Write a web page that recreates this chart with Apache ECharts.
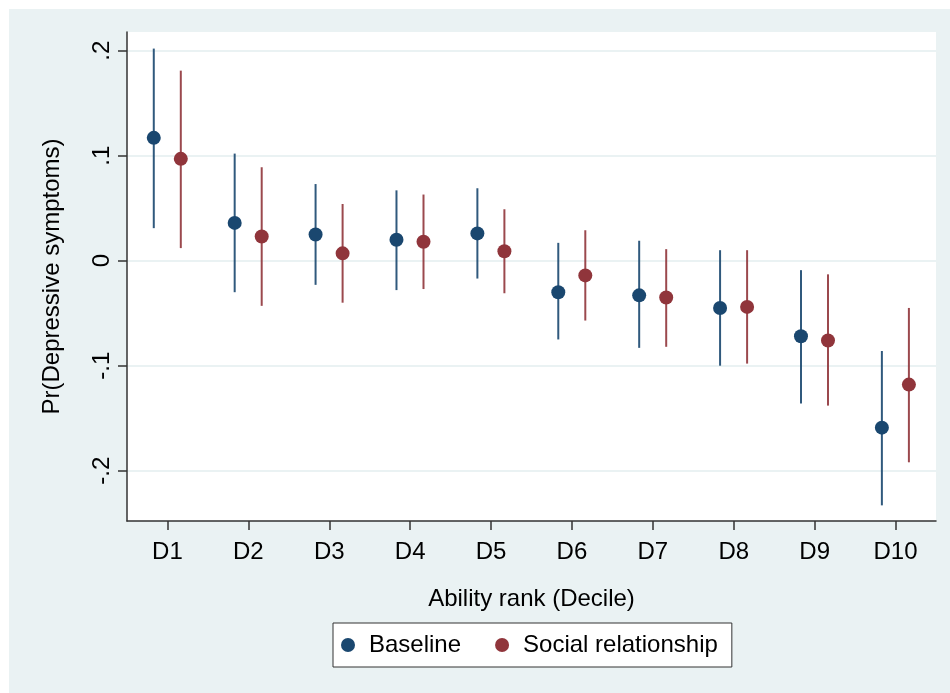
<!DOCTYPE html>
<html>
<head>
<meta charset="utf-8">
<script src="https://cdn.jsdelivr.net/npm/echarts@6/dist/echarts.min.js"></script>
<style>
html,body{margin:0;padding:0;background:#fff;}
#chart{width:950px;height:693px;}
</style>
</head>
<body>
<div id="chart"></div>
<script>
var categories = ['D1','D2','D3','D4','D5','D6','D7','D8','D9','D10'];
var baselineEst = [0.117, 0.036, 0.025, 0.020, 0.026, -0.030, -0.033, -0.045, -0.072, -0.159];
var baselineLo  = [0.031, -0.030, -0.023, -0.028, -0.017, -0.075, -0.083, -0.100, -0.136, -0.233];
var baselineHi  = [0.202, 0.102, 0.073, 0.067, 0.069, 0.017, 0.019, 0.010, -0.009, -0.086];
var socialEst = [0.097, 0.023, 0.007, 0.018, 0.009, -0.014, -0.035, -0.044, -0.076, -0.118];
var socialLo  = [0.012, -0.043, -0.040, -0.027, -0.031, -0.057, -0.082, -0.098, -0.138, -0.192];
var socialHi  = [0.181, 0.089, 0.054, 0.063, 0.049, 0.029, 0.011, 0.010, -0.013, -0.045];
var yTickValues = [-0.2, -0.1, 0, 0.1, 0.2];
var yTickLabels = ['-.2', '-.1', '0', '.1', '.2'];
var seriesNames = ['Baseline', 'Social relationship'];

var FONT = "'Liberation Sans', Arial, sans-serif";

function buildData(est, lo, hi) {
  return categories.map(function (c, i) { return [i, est[i], lo[i], hi[i]]; });
}

function makeRender(offsetFrac) {
  return function (params, api) {
    var idx = api.value(0);
    var c = api.coord([idx, api.value(1)]);
    var lo = api.coord([idx, api.value(2)]);
    var hi = api.coord([idx, api.value(3)]);
    var bw = api.size([1, 0])[0];
    var x = c[0] + offsetFrac * bw;
    var color = api.visual('color');
    return {
      type: 'group',
      children: [
        { type: 'line', shape: { x1: x, y1: hi[1], x2: x, y2: lo[1] },
          style: { stroke: color, lineWidth: 2, opacity: 0.9 } },
        { type: 'circle', shape: { cx: x, cy: c[1], r: 7 },
          style: { fill: color } }
      ]
    };
  };
}

var chart = echarts.init(document.getElementById('chart'), null, { renderer: 'canvas' });
chart.setOption({
  animation: false,
  backgroundColor: '#fff',
  textStyle: { fontFamily: FONT },
  graphic: [{
    type: 'rect', z: -10, silent: true,
    shape: { x: 9, y: 9, width: 941, height: 684 },
    style: { fill: '#EAF2F3' }
  }],
  grid: {
    left: 127, right: 14, top: 32, bottom: 172,
    show: true, backgroundColor: '#fff', borderWidth: 0, containLabel: false
  },
  legend: {
    left: 333, top: 623,
    orient: 'horizontal',
    padding: [10, 14, 10, 8],
    itemGap: 34, itemWidth: 14, itemHeight: 14,
    icon: 'circle',
    borderColor: '#333', borderWidth: 1, borderRadius: 0,
    backgroundColor: '#fff',
    textStyle: { fontSize: 24, fontFamily: FONT, color: '#000', padding: [0, 0, 0, 9] },
    data: seriesNames
  },
  xAxis: {
    type: 'category',
    data: categories,
    boundaryGap: true,
    name: 'Ability rank (Decile)',
    nameLocation: 'middle',
    nameGap: 66,
    nameTextStyle: { fontSize: 24, color: '#000', fontFamily: FONT },
    axisLine: { show: true, onZero: false, lineStyle: { color: '#333', width: 1.5 } },
    axisTick: { show: true, alignWithLabel: true, length: 9, lineStyle: { color: '#333', width: 1.5 } },
    axisLabel: { fontSize: 24, color: '#000', margin: 19, fontFamily: FONT },
    splitLine: { show: false }
  },
  yAxis: {
    type: 'value',
    min: -0.2479, max: 0.2178,
    name: 'Pr(Depressive symptoms)',
    nameLocation: 'middle',
    nameGap: 63,
    nameTextStyle: { fontSize: 24, color: '#000', fontFamily: FONT },
    axisLine: { show: true, onZero: false, lineStyle: { color: '#333', width: 1.5 } },
    axisTick: { show: true, length: 9, customValues: yTickValues, lineStyle: { color: '#333', width: 1.5 } },
    axisLabel: {
      fontSize: 24, color: '#000', margin: 13, rotate: 90, fontFamily: FONT,
      customValues: yTickValues,
      formatter: function (v) {
        for (var i = 0; i < yTickValues.length; i++) {
          if (Math.abs(yTickValues[i] - v) < 1e-9) return yTickLabels[i];
        }
        return '';
      }
    },
    splitLine: { show: true, lineStyle: { color: '#EAF2F3', width: 2 } }
  },
  series: [
    {
      name: seriesNames[0], type: 'custom',
      itemStyle: { color: '#1A476F' },
      encode: { x: 0, y: [1, 2, 3] },
      renderItem: makeRender(-0.169),
      data: buildData(baselineEst, baselineLo, baselineHi)
    },
    {
      name: seriesNames[1], type: 'custom',
      itemStyle: { color: '#90353B' },
      encode: { x: 0, y: [1, 2, 3] },
      renderItem: makeRender(0.165),
      data: buildData(socialEst, socialLo, socialHi)
    }
  ]
});
</script>
</body>
</html>
